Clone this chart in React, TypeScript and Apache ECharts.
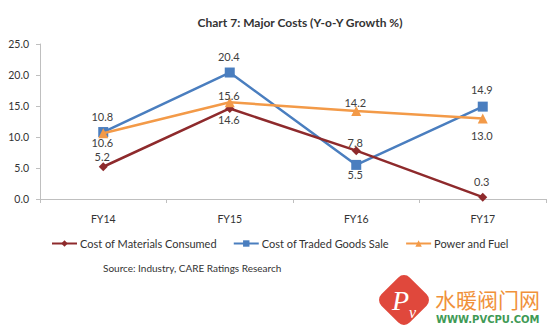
import React, { useEffect, useRef } from "react";
import * as echarts from "echarts";

const categories = ["FY14", "FY15", "FY16", "FY17"];
const materials = [5.2, 14.6, 7.8, 0.3];
const traded = [10.8, 20.4, 5.5, 14.9];
const power = [10.6, 15.6, 14.2, 13.0];
// vertical label offsets (px) relative to the marker
const materialsLabelDy = [-10, 11, -8, -16];
const tradedLabelDy = [-16, -16, 10, -17];
const powerLabelDy = [9, -7, -8, 17];

const FONT = "Lato, 'Open Sans', sans-serif";

function mk(values: number[], dy: number[]) {
  return values.map((v, i) => ({ value: v, label: { position: "inside", offset: [-1, dy[i]] } }));
}

export default function App() {
  const ref = useRef<HTMLDivElement>(null);
  useEffect(() => {
    if (!ref.current) return;
    document.body.style.margin = "0";
    const chart = echarts.init(ref.current, null, { renderer: "svg" });
    const label = {
      show: true,
      fontSize: 11,
      color: "#404040",
      fontFamily: FONT,
      formatter: (p: any) => Number(p.value).toFixed(1),
    };
    chart.setOption({
      animation: false,
      backgroundColor: "#ffffff",
      title: {
        text: "Chart 7: Major Costs (Y-o-Y Growth %)",
        left: 295,
        textAlign: "center",
        top: 11,
        textStyle: { fontSize: 12, fontWeight: "bold", color: "#333", fontFamily: FONT },
      },
      grid: { left: 40, right: 4, top: 44, bottom: 134 },
      legend: {
        top: 233,
        left: 46,
        itemGap: 16,
        itemWidth: 25,
        itemHeight: 8,
        textStyle: { fontSize: 11, color: "#333", fontFamily: FONT, padding: [0, 0, 0, -2] },
        data: ["Cost of Materials Consumed", "Cost of Traded Goods Sale", "Power and Fuel"],
      },
      xAxis: {
        type: "category",
        data: categories,
        boundaryGap: true,
        axisLine: { lineStyle: { color: "#bfbfbf" } },
        axisTick: { show: true, length: 4, lineStyle: { color: "#bfbfbf" } },
        axisLabel: { fontSize: 10.5, color: "#333", fontFamily: FONT, margin: 14 },
      },
      yAxis: {
        type: "value",
        min: 0,
        max: 25,
        interval: 5,
        axisLine: { show: true, lineStyle: { color: "#bfbfbf" } },
        axisTick: { show: true, length: 4, lineStyle: { color: "#bfbfbf" } },
        splitLine: { show: false },
        axisLabel: {
          fontSize: 10.5,
          color: "#333",
          fontFamily: FONT,
          margin: 11,
          formatter: (v: number) => v.toFixed(1),
        },
      },
      series: [
        {
          name: "Cost of Materials Consumed",
          type: "line",
          data: mk(materials, materialsLabelDy),
          color: "#8e2a2c",
          lineStyle: { width: 2.5, color: "#8e2a2c" },
          symbol: "diamond",
          symbolSize: 9,
          itemStyle: { color: "#8e2a2c" },
          label,
          z: 3,
        },
        {
          name: "Cost of Traded Goods Sale",
          type: "line",
          data: mk(traded, tradedLabelDy),
          color: "#4a7ebf",
          lineStyle: { width: 2.5, color: "#4a7ebf" },
          symbol: "rect",
          symbolSize: 10,
          itemStyle: { color: "#4a7ebf" },
          label,
          z: 2,
        },
        {
          name: "Power and Fuel",
          type: "line",
          data: mk(power, powerLabelDy),
          color: "#f39a48",
          lineStyle: { width: 2.5, color: "#f39a48" },
          symbol: "triangle",
          symbolSize: 10,
          itemStyle: { color: "#f39a48" },
          label,
          z: 4,
        },
      ],
      graphic: [
        {
          type: "text",
          left: 103,
          top: 263,
          style: {
            text: "Source: Industry, CARE Ratings Research",
            fontSize: 10,
            fill: "#333",
            fontFamily: FONT,
          },
        },
        {
          type: "rect",
          x: 404,
          y: 300,
          rotation: Math.PI / 4,
          shape: { x: -20, y: -20, width: 40, height: 40, r: 8 },
          style: { fill: "#e0483c" },
        },
        {
          type: "text",
          x: 392,
          y: 286,
          style: {
            text: "P",
            fontSize: 28,
            fontStyle: "italic",
            fontFamily: "'Liberation Serif', serif",
            fill: "#ffffff",
          },
        },
        {
          type: "text",
          x: 409,
          y: 304,
          style: {
            text: "v",
            fontSize: 16,
            fontStyle: "italic",
            fontFamily: "'Liberation Serif', serif",
            fill: "#ffffff",
          },
        },
        {
          type: "text",
          x: 435,
          y: 288,
          style: {
            text: "水暖阀门网",
            fontSize: 21,
            fontFamily: "'Noto Sans CJK SC', sans-serif",
            fill: "#f0913a",
          },
        },
        {
          type: "text",
          x: 436,
          y: 314,
          style: {
            text: "WWW.PVCPU.COM",
            fontSize: 10,
            fontWeight: "bold",
            fontFamily: "'DejaVu Sans', sans-serif",
            fill: "#3f9a55",
          },
        },
      ],
    });
    return () => chart.dispose();
  }, []);
  return <div ref={ref} style={{ width: 550, height: 333 }} />;
}
